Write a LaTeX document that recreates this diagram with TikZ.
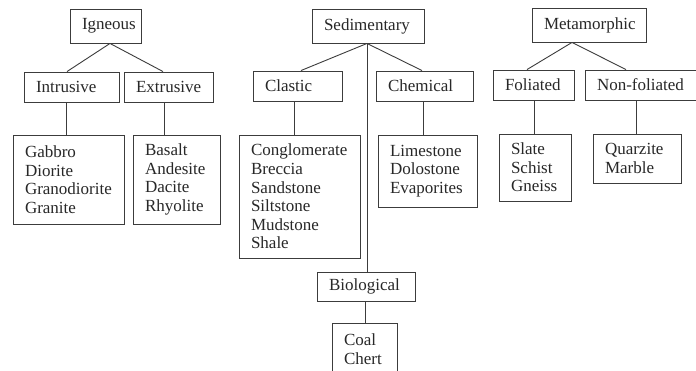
\documentclass[tikz,border=0pt]{standalone}
\usepackage{fontspec}
\setmainfont{Liberation Serif}
\usetikzlibrary{calc}
\definecolor{linec}{RGB}{60,60,60}
\definecolor{txtc}{RGB}{40,40,40}
\tikzset{
  box/.style={draw=linec, line width=0.9pt, rectangle, inner xsep=12pt, inner ysep=0pt,
    align=left, font=\fontsize{17}{18.6}\selectfont, text=txtc},
  conn/.style={draw=linec, line width=0.9pt}
}
\begin{document}
\begin{tikzpicture}[x=1pt,y=-1pt]
\clip (0,0) rectangle (696,371);
\fill[white] (0,0) rectangle (696,371);
% Igneous
\node[box, text width=47pt, minimum height=34pt] (igneous) at (105.5,26) {Igneous};
\node[box, text width=71pt, minimum height=30pt] (intrusive) at (71.5,87) {Intrusive};
\node[box, text width=65pt, minimum height=30pt] (extrusive) at (168.5,87) {Extrusive};
\node[box, text width=87pt, minimum height=89pt] (gabbro) at (68.5,179.5) {Gabbro\\Diorite\\Granodiorite\\Granite};
\node[box, text width=63pt, minimum height=89pt] (basalt) at (176.5,179.5) {Basalt\\Andesite\\Dacite\\Rhyolite};
% Sedimentary
\node[box, text width=88pt, minimum height=34pt] (sedimentary) at (368,26) {Sedimentary};
\node[box, text width=65pt, minimum height=30pt] (clastic) at (297.5,86) {Clastic};
\node[box, text width=73pt, minimum height=30pt] (chemical) at (424.5,86) {Chemical};
\node[box, text width=97pt, minimum height=123pt] (conglomerate) at (299.5,196.5) {Conglomerate\\Breccia\\Sandstone\\Siltstone\\Mudstone\\Shale};
\node[box, text width=75pt, minimum height=72pt] (limestone) at (427.5,171) {Limestone\\Dolostone\\Evaporites};
\node[box, text width=74pt, minimum height=29pt] (biological) at (366,286.5) {Biological};
\node[box, text width=41pt, minimum height=52pt] (coal) at (364.5,349) {Coal\\Chert};
% Metamorphic
\node[box, text width=90pt, minimum height=34pt] (metamorphic) at (589,25) {Metamorphic};
\node[box, text width=57pt, minimum height=30pt] (foliated) at (533.5,85) {Foliated};
\node[box, text width=89pt, minimum height=30pt] (nonfoliated) at (641.5,85) {Non-foliated};
\node[box, text width=48pt, minimum height=67pt] (slate) at (535,167.5) {Slate\\Schist\\Gneiss};
\node[box, text width=64pt, minimum height=49pt] (quarzite) at (637,158.5) {Quarzite\\Marble};
% connectors
\draw[conn] ($(igneous.south)+(4.5,0)$) -- ($(intrusive.north)+(-4.5,0)$);
\draw[conn] ($(igneous.south)+(4.5,0)$) -- ($(extrusive.north)+(-5.5,0)$);
\draw[conn] ($(intrusive.south)+(-5.5,0)$) -- ($(gabbro.north)+(-2.5,0)$);
\draw[conn] ($(extrusive.south)+(-4.5,0)$) -- ($(basalt.north)+(-12.5,0)$);
\draw[conn] ($(sedimentary.south)+(-1,0)$) -- ($(clastic.north)+(3.5,0)$);
\draw[conn] ($(sedimentary.south)+(-1,0)$) -- ($(chemical.north)+(-2.5,0)$);
\draw[conn] ($(sedimentary.south)+(-1,0)$) -- ($(biological.north)+(1,0)$);
\draw[conn] ($(clastic.south)+(-3.5,0)$) -- ($(conglomerate.north)+(-5.5,0)$);
\draw[conn] ($(chemical.south)+(-1.5,0)$) -- ($(limestone.north)+(-4.5,0)$);
\draw[conn] ($(biological.south)+(-1,0)$) -- ($(coal.north)+(0.5,0)$);
\draw[conn] ($(metamorphic.south)+(-17,0)$) -- ($(foliated.north)+(-6.5,0)$);
\draw[conn] ($(metamorphic.south)+(-17,0)$) -- ($(nonfoliated.north)+(-15.5,0)$);
\draw[conn] ($(foliated.south)+(0.5,0)$) -- ($(slate.north)+(-1,0)$);
\draw[conn] ($(nonfoliated.south)+(-5.5,0)$) -- ($(quarzite.north)+(-1,0)$);
\end{tikzpicture}
\end{document}
